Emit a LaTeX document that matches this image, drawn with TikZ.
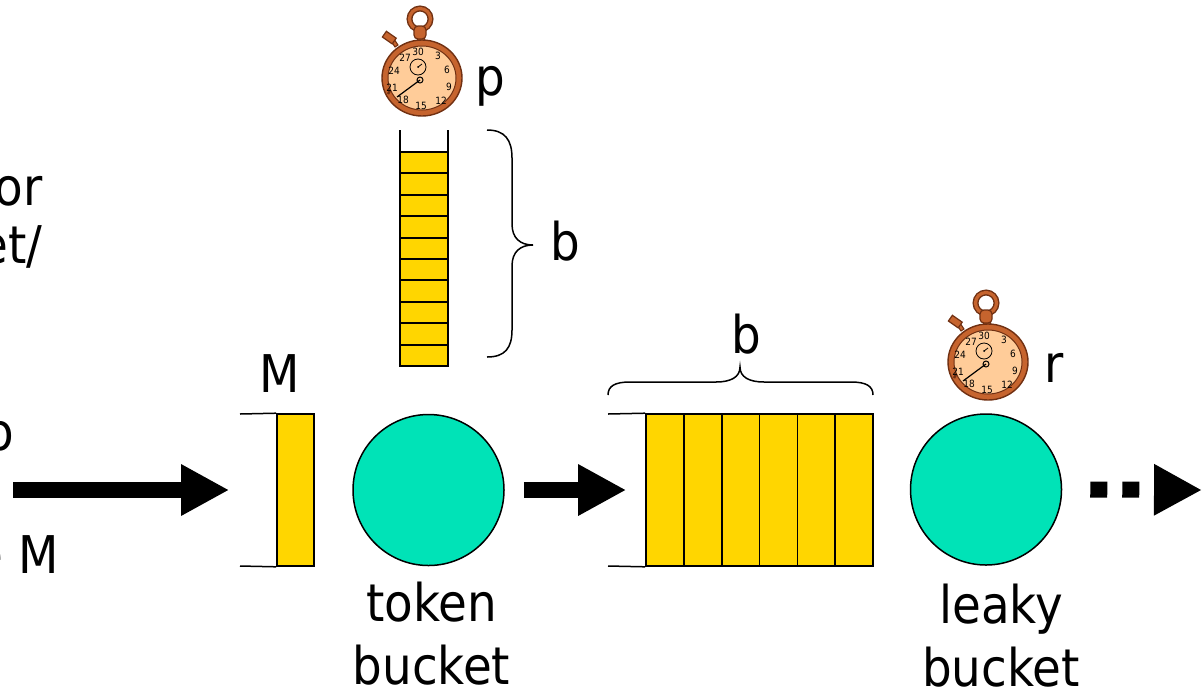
\documentclass[tikz,border=0pt]{standalone}
\usepackage{fontspec}
\setmainfont{DejaVu Sans Condensed}
\usetikzlibrary{arrows.meta}

\definecolor{tokengold}{RGB}{255,214,0}
\definecolor{bucketteal}{RGB}{0,227,183}
\definecolor{watchrim}{RGB}{198,100,46}
\definecolor{watchdark}{RGB}{112,48,18}
\definecolor{watchface}{RGB}{255,204,153}

\tikzset{
  txt/.style={inner sep=0pt, font=\fontsize{26}{31.5}\selectfont},
  bucket/.style={circle, draw=black, line width=0.75pt, fill=bucketteal,
                 minimum size=75.5pt, inner sep=0pt},
  qcell/.style={draw=black, line width=0.8pt, fill=tokengold,
                minimum width=18.9pt, minimum height=76pt, inner sep=0pt},
  tokencell/.style={draw=black, line width=1pt, fill=tokengold},
  wall/.style={line width=1pt, line cap=rect},
  rail/.style={line width=0.75pt},
  bracestroke/.style={line width=0.75pt},
  bigarrow/.style={line width=8pt, -{Triangle[length=24pt,width=24pt]}},
  stopwatch/.pic={
    % hanging ring
    \draw[watchdark, line width=3pt] (-2,-59) circle[radius=10.5];
    \draw[watchrim, line width=1.6pt] (-2,-59) circle[radius=10.5];
    % crown and neck
    \filldraw[fill=watchrim, draw=watchdark, line width=0.5pt]
      (-5,-40) rectangle (2,-34);
    \filldraw[fill=watchrim, draw=watchdark, line width=0.6pt, rounded corners=2pt]
      (-8,-52) rectangle (4,-39);
    % side button
    \filldraw[fill=watchrim, draw=watchdark, line width=0.5pt]
      (-27,-31) -- (-31,-37) -- (-28,-39) -- (-24,-33) -- cycle;
    \filldraw[fill=watchrim, draw=watchdark, line width=0.6pt, rotate around={-35:(-33,-40)}]
      (-39,-44) rectangle (-27,-37);
    % case and face
    \filldraw[fill=watchrim, draw=watchdark, line width=0.7pt]
      (0,0) ellipse[x radius=40, y radius=38];
    \draw[watchdark, line width=1.2pt] (-34,16) arc[start angle=205, end angle=320, x radius=37.5, y radius=35.5];
    \filldraw[fill=watchface, draw=watchdark, line width=0.5pt]
      (0,0) ellipse[x radius=34, y radius=32];
    % small dial
    \draw[black, line width=0.4pt] (-4,-11) circle[radius=8];
    \draw[black, line width=0.4pt] (-4,-11) -- (0,-14);
    \fill[black] (-4,-11) circle[radius=1];
    % numbers
    \begin{scope}[every node/.style={inner sep=0pt, font=\fontsize{5}{5}\selectfont}]
      \node at (-4,-26) {30};
      \node at (16,-22) {3};
      \node at (25,-8) {6};
      \node at (27,9) {9};
      \node at (19,23) {12};
      \node at (-1,28) {15};
      \node at (-19,22) {18};
      \node at (-30,10) {21};
      \node at (-28,-7) {24};
      \node at (-17,-20) {27};
    \end{scope}
    % seconds hand
    \draw[black, line width=0.6pt] (-2,2) -- (-25,19);
    \draw[black, line width=0.5pt] (-2,2) circle[radius=3];
  }
}

\begin{document}
\begin{tikzpicture}[x=0.5pt, y=-0.5pt]
\useasboundingbox (0,0) rectangle (1202,686);
\clip (0,0) rectangle (1202,686);

% text running in from the left margin
\node[txt, anchor=base east] (lt1) at (43,205) {or};
\node[txt, anchor=base east] (lt2) at (43,263) {et/};
\node[txt, anchor=base east] (lt3) at (15,450) {o};
\node[txt, anchor=base east] (lt4) at (59,573) {e M};

% packet of size M waiting at the entrance
\node[qcell, minimum width=18.5pt] (mbar) at (295.5,490) {};
\draw[rail] (240,414) -- (mbar.north west);
\draw[rail] (240,566) -- (mbar.south west);
\node[txt, anchor=base] (lM) at (279.5,392) {M};

% token bucket with its timer and token column
\node[bucket] (tb) at (428.5,490) {};
\pic at (422,78) {stopwatch};
\node[txt, anchor=base] (lp) at (490,95) {p};
\draw[wall] (400,131) -- (400,366) -- (448,366) -- (448,131);
\foreach \i in {0,...,9}
  \draw[tokencell] (400,{152+\i*21.4}) rectangle ++(48,21.4);
\draw[bracestroke] (487,130) .. controls (505,130) and (512,140) .. (512,158)
  -- (512,224) .. controls (512,238) and (520,245) .. (533,245)
  .. controls (520,245) and (512,252) .. (512,266)
  -- (512,330) .. controls (512,348) and (505,357) .. (487,357);
\node[txt, anchor=base] (lb1) at (565.5,260) {b};
\node[txt, anchor=base, align=center] (ltb) at (431.5,684) {token\\bucket};

% queue of capacity b
\foreach \i in {1,...,6}
  \node[qcell] (q\i) at ({646+18.92*2*(\i-1)+18.92},490) {};
\draw[rail] (608,414) -- (q1.north west);
\draw[rail] (608,566) -- (q1.south west);
\draw[bracestroke] (608,395) .. controls (608,386) and (615,382) .. (630,382)
  -- (716,382) .. controls (731,382) and (740,377) .. (740,367)
  .. controls (740,377) and (749,382) .. (764,382)
  -- (851,382) .. controls (866,382) and (873,386) .. (873,395);
\node[txt, anchor=base] (lb2) at (746.5,353) {b};

% leaky bucket with its timer
\node[bucket] (lb) at (986,489.5) {};
\pic at (988,362) {stopwatch};
\node[txt, anchor=base] (lr) at (1054,382) {r};
\node[txt, anchor=base, align=center] (llb) at (1001,686) {leaky\\bucket};

% flow arrows
\coordinate (src) at (13,490);
\coordinate (sink) at (1202,490);
\draw[bigarrow] (src) -- ([xshift=-23.5pt]mbar.west);
\draw[bigarrow] ([xshift=9.5pt]tb.east) -- ([xshift=-9.5pt]q1.west);
\draw[bigarrow, dash pattern=on 8.5pt off 7.5pt] ([xshift=14pt]lb.east) -- (sink);
\end{tikzpicture}
\end{document}
